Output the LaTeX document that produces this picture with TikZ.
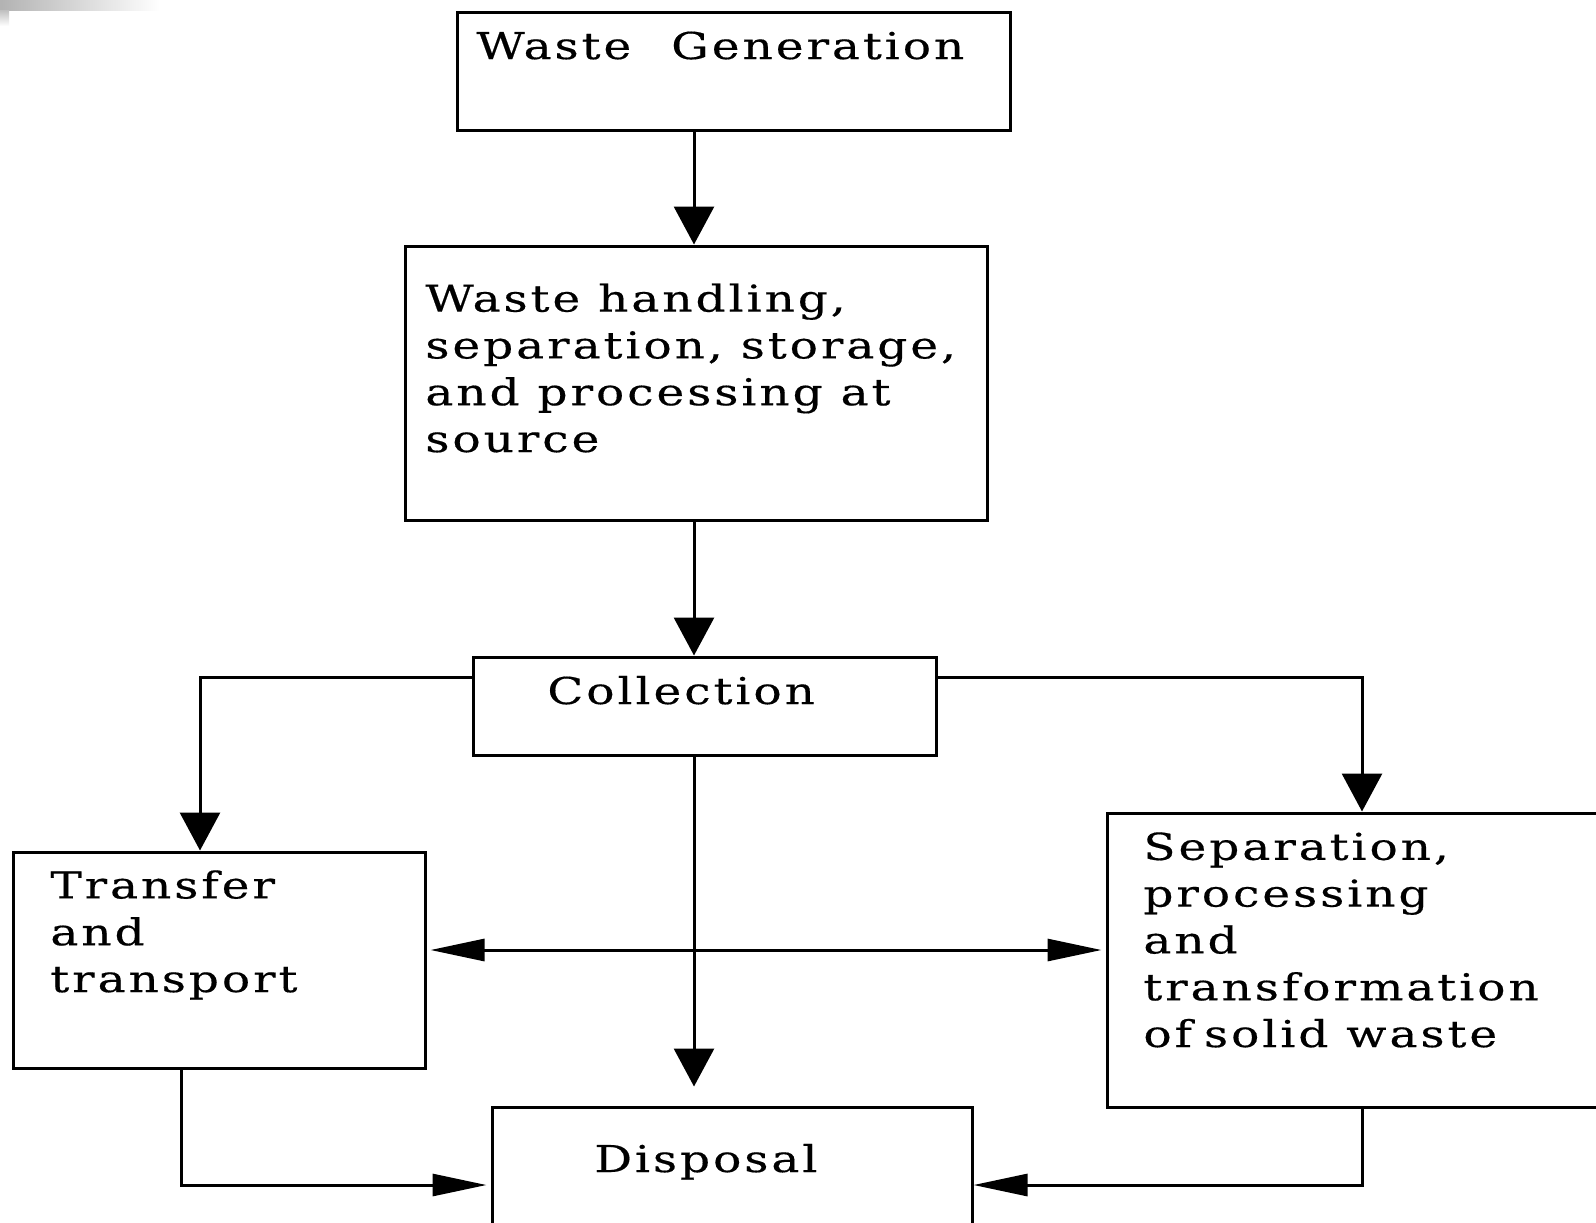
\documentclass[tikz,border=0pt]{standalone}
\usepackage{fontspec}
\setmainfont{DejaVu Serif}[FakeStretch=1.27,LetterSpace=8,FakeBold=0.4]
\usetikzlibrary{arrows.meta}
\newdimen\pxu \pxu=0.5pt
\tikzset{
  box/.style={draw, line width=1.5pt, rectangle, inner sep=0pt},
  lbl/.style={inner sep=0pt, anchor=base west, align=left,
    font=\fontsize{18.5pt}{23.4pt}\selectfont},
  conn/.style={line width=1.5pt},
  varr/.style={conn, -{Triangle[length=19pt,width=20pt]}},
  harr/.style={conn, -{Triangle[length=27pt,width=11pt]}},
  hboth/.style={conn, {Triangle[length=27pt,width=11pt]}-{Triangle[length=27pt,width=11pt]}}
}
\begin{document}
\begin{tikzpicture}[x=0.5pt,y=-0.5pt]
\useasboundingbox (0,0) rectangle (1596,1222);
% corner shading
\shade[left color=black!30, right color=white] (0,0) rectangle (160,10);
\shade[top color=black!25, bottom color=white] (0,10) rectangle (9,26);

% boxes
\node[box, minimum width=553\pxu, minimum height=118\pxu] (wg) at (733.5,71) {};
\node[box, minimum width=582\pxu, minimum height=274\pxu] (wh) at (696,383) {};
\node[box, minimum width=463\pxu, minimum height=98\pxu] (coll) at (704.5,706) {};
\node[box, minimum width=412\pxu, minimum height=216\pxu] (trans) at (219,960) {};
\node[box, minimum width=533\pxu, minimum height=294\pxu] (sep) at (1373.5,960) {};
\node[box, minimum width=480\pxu, minimum height=153\pxu] (disp) at (732,1183.5) {};

% texts (base = baseline of the last line)
\node[lbl] (twg) at (476,59) {Waste\hspace{20pt}Generation};
\node[lbl] (twh) at (425,452) {Waste handling,\\separation, storage,\\and processing at\\source};
\node[lbl] (tcoll) at (547,704) {Collection};
\node[lbl] (ttrans) at (50,992) {Transfer\\and\\transport};
\node[lbl] (tsep) at (1143,1047) {Separation,\\processing\\and\\transformation\\of\hspace{6pt}solid waste};
\node[lbl] (tdisp) at (594,1172) {Disposal};

% guide coordinates
\coordinate (cx) at (694,0);
\coordinate (lx) at (200,0);
\coordinate (rx) at (1362,0);
\coordinate (tx) at (181,0);
\coordinate (ly) at (0,677);
\coordinate (hy) at (0,950);
\coordinate (by) at (0,1185);

% connectors
\draw[varr] (wg.south -| cx) -- (wh.north -| cx);
\draw[varr] (wh.south -| cx) -- (coll.north -| cx);
\draw[varr, shorten >=9.5pt] (coll.south -| cx) -- (disp.north -| cx);
\draw[varr] (coll.west |- ly) -| (trans.north -| lx);
\draw[varr] (coll.east |- ly) -| (sep.north -| rx);
\draw[hboth, shorten <=2pt, shorten >=2pt] (trans.east |- hy) -- (sep.west |- hy);
\draw[harr, shorten >=2pt] (trans.south -| tx) |- (disp.west |- by);
\draw[harr] (sep.south -| rx) |- (disp.east |- by);
\end{tikzpicture}
\end{document}
